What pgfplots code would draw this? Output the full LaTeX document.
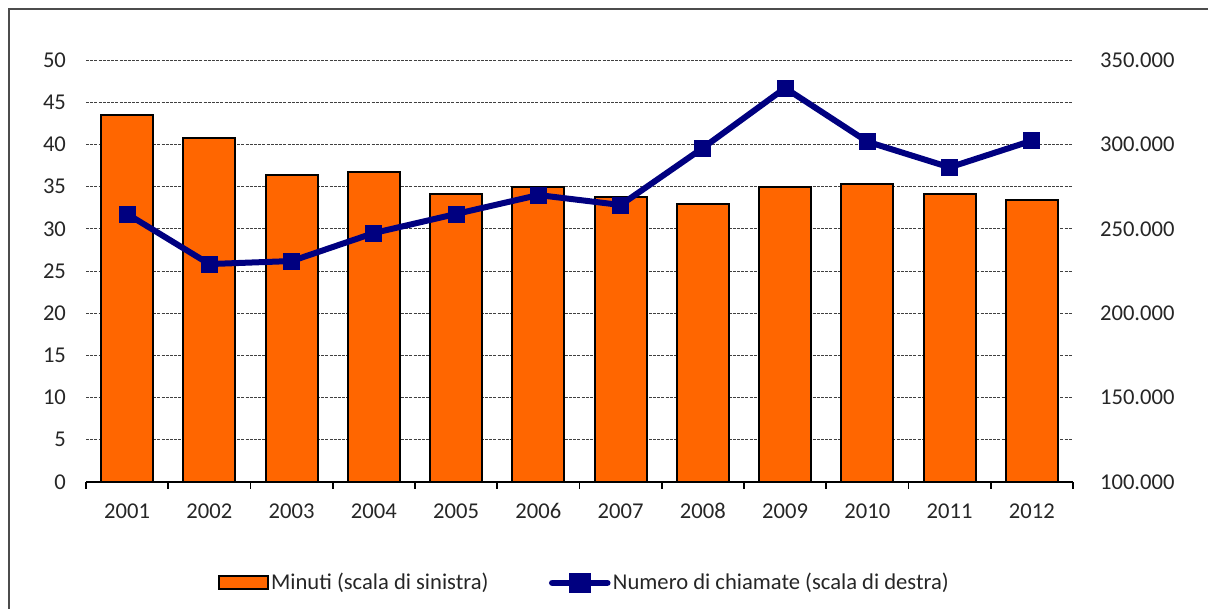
\documentclass[border=0pt]{standalone}
\usepackage{fontspec}
\setmainfont{Carlito}
\usepackage{pgfplots}
\pgfplotsset{compat=1.18}
\definecolor{barorange}{HTML}{FF6600}
\definecolor{navyline}{HTML}{000080}
\definecolor{txt}{HTML}{262626}
\begin{document}
\begin{tikzpicture}
\useasboundingbox (0,0) rectangle (604pt,304.5pt);
\draw[black!70, line width=0.9pt] (4.5pt,-20pt) -- (4.5pt,300pt) -- (640pt,300pt);
\pgfplotsset{common/.style={scale only axis, width=493.5pt, height=211pt,
  at={(43pt,63.5pt)}, anchor=south west, xmin=-0.5, xmax=11.5,
  font=\fontsize{11.3pt}{13pt}\selectfont,
  /pgf/number format/assume math mode=true,
  tick label style={text=txt}}}
\begin{axis}[common, ymin=0, ymax=50, ytick={0,5,...,50},
  axis x line*=bottom, axis y line*=left,
  y axis line style={draw=none},
  x axis line style={line width=0.8pt, black, -},
  ytick style={draw=none},
  xtick={0,...,11},
  xticklabels={2001,2002,2003,2004,2005,2006,2007,2008,2009,2010,2011,2012},
  major tick length=0pt,
  minor xtick={-0.5,0.5,...,11.5},
  minor x tick style={black, line width=0.8pt},
  minor tick length=3.5pt,
  tick align=outside,
  ymajorgrids,
  grid style={dash pattern=on 1.5pt off 0.6pt, black!75, line width=0.4pt},
  yticklabel style={xshift=-6.5pt},
  xticklabel style={anchor=north, text height=1.6ex, text depth=0.2ex, yshift=-7pt},
  ybar, bar width=26pt]
\addplot[fill=barorange, draw=black, line width=1pt] coordinates {
(0,43.5) (1,40.8) (2,36.4) (3,36.7) (4,34.1) (5,35.0)
(6,33.8) (7,32.9) (8,35.0) (9,35.3) (10,34.1) (11,33.4)};
\end{axis}
\begin{axis}[common, ymin=100000, ymax=350000,
  ytick={100000,150000,...,350000},
  scaled y ticks=false,
  yticklabel style={xshift=10pt, /pgf/number format/.cd, fixed, 1000 sep={.}},
  axis x line=none, axis y line*=right,
  y axis line style={draw=none},
  ytick style={draw=none},
  legend columns=2,
  legend style={draw=none, fill=none, at={(0.505,-0.239)}, anchor=center,
    inner sep=0pt, font=\fontsize{11.3pt}{13pt}\selectfont, text=txt,
    nodes={inner xsep=1.2pt, inner ysep=1.5pt, anchor=west},
    /tikz/every even column/.append style={column sep=29pt}},
  legend cell align=left]
\addlegendimage{legend image code/.code={\draw[fill=barorange, draw=black, line width=1pt] (0pt,-3.25pt) rectangle (24.5pt,3.25pt);}}
\addlegendentry{Minuti (scala di sinistra)}
\addplot[navyline, line width=3pt, mark=square*, mark size=4pt,
  mark options={line width=0.4pt, fill=navyline},
  legend image code/.code={\draw[navyline, line width=3.3pt, line cap=round] (0pt,0pt) -- (27.5pt,0pt); \fill[navyline] (9.75pt,-3.5pt) rectangle (17.75pt,3.5pt);}]
coordinates {
(0,258800) (1,229100) (2,230900) (3,247500) (4,258800) (5,270000)
(6,264100) (7,297900) (8,333400) (9,301600) (10,286400) (11,302200)};
\addlegendentry{Numero di chiamate (scala di destra)}
\end{axis}
\end{tikzpicture}
\end{document}
